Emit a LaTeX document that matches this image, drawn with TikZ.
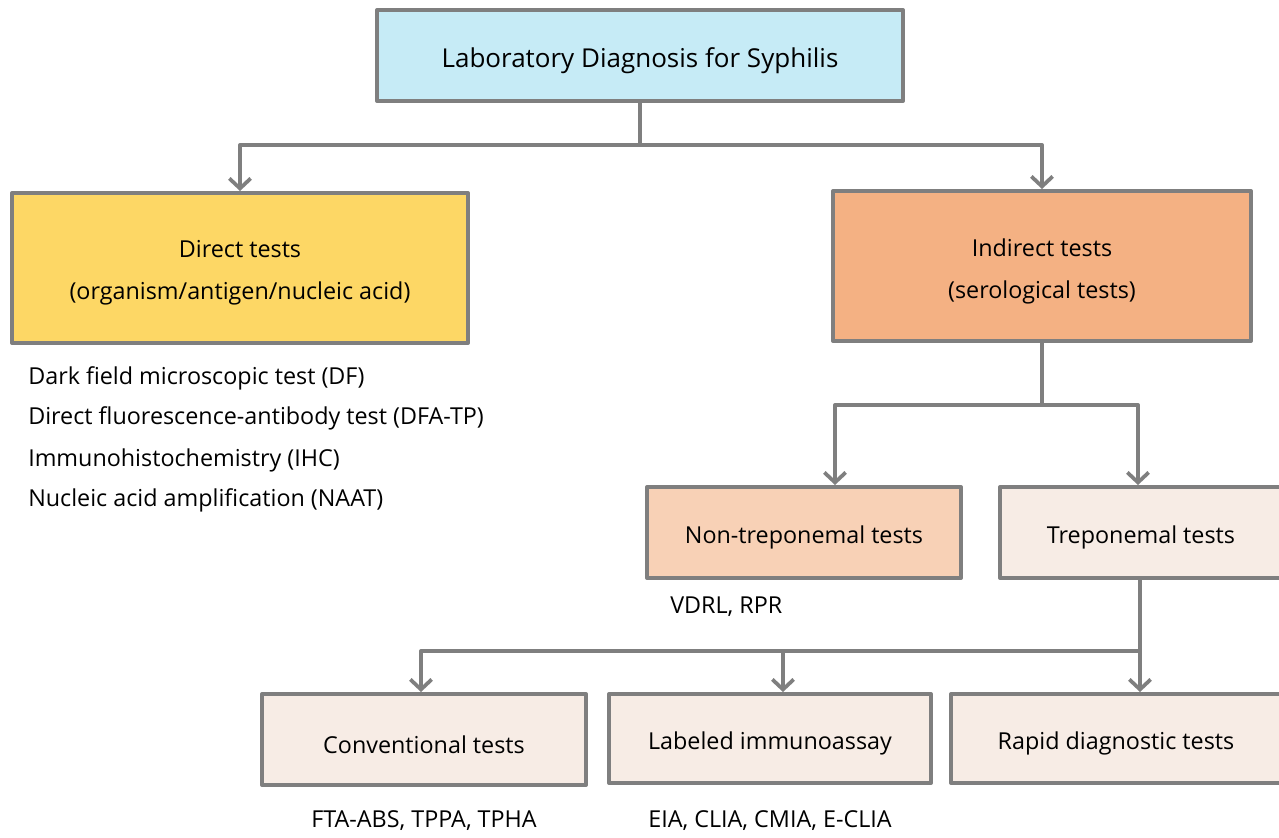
\documentclass[tikz,border=0pt]{standalone}
\usepackage{fontspec}
\setmainfont{Open Sans}
\usetikzlibrary{arrows.meta}
\definecolor{boxgray}{HTML}{7F7F7F}
\definecolor{topblue}{HTML}{C6EBF6}
\definecolor{directyellow}{HTML}{FDD765}
\definecolor{indirectorange}{HTML}{F4B183}
\definecolor{nontreppeach}{HTML}{F8D1B6}
\definecolor{treplight}{HTML}{F7ECE5}
\newcommand\lowtxt[1]{\raisebox{-3.75pt}[\height][\depth]{#1}}
\begin{document}
\begin{tikzpicture}[x=0.75pt,y=-0.75pt,>={Straight Barb[length=7.5pt,width=16pt,line width=2.8pt]}, font=\fontsize{17.5}{21}\selectfont, line join=round]
	\tikzset{box/.style={draw=boxgray,line width=3pt,align=center,inner sep=0pt},
		link/.style={draw=boxgray,line width=3pt}}
	\useasboundingbox (0,0) rectangle (1279,838);
	% boxes
	\node[box,fill=topblue,minimum width=394.5pt,minimum height=68.25pt,font=\fontsize{19.5}{23}\selectfont] (lab) at (640,55.5) {\lowtxt{Laboratory Diagnosis for Syphilis}};
	\node[box,fill=directyellow,minimum width=342pt,minimum height=112.5pt] (direct) at (240,268) {\lowtxt{Direct tests}\\[10.5pt]\lowtxt{(organism/antigen/nucleic acid)}};
	\node[box,fill=indirectorange,minimum width=313.5pt,minimum height=112.5pt] (indirect) at (1042,266) {\lowtxt{Indirect tests}\\[10.5pt]\lowtxt{(serological tests)}};
	\node[box,fill=nontreppeach,minimum width=235.5pt,minimum height=68.25pt] (nontrep) at (804,532.5) {\lowtxt{Non-treponemal tests}};
	\node[box,fill=treplight,minimum width=211.5pt,minimum height=68.25pt] (trep) at (1141,532.5) {\lowtxt{Treponemal tests}};
	\node[box,fill=treplight,minimum width=243pt,minimum height=68.25pt] (conv) at (424,739.5) {\lowtxt{Conventional tests}};
	\node[box,fill=treplight,minimum width=241.5pt,minimum height=66.75pt] (label) at (770,738.5) {\lowtxt{Labeled immunoassay}};
	\node[box,fill=treplight,minimum width=247.5pt,minimum height=66.75pt] (rapid) at (1116,738.5) {\lowtxt{Rapid diagnostic tests}};
	% texts
	\foreach \t/\y/\n in {Dark field microscopic test (DF)/378/df,Direct fluorescence-antibody test (DFA-TP)/418/dfa,Immunohistochemistry (IHC)/460/ihc,Nucleic acid amplification (NAAT)/500/naat}
	\node[anchor=west,inner sep=0pt] (\n) at (28,\y) {\t};
	\node[anchor=west,inner sep=0pt] (vdrl) at (670,607) {VDRL, RPR};
	\node[inner sep=0pt] (fta) at (424,821) {FTA-ABS, TPPA, TPHA};
	\node[inner sep=0pt] (eia) at (770,821) {EIA, CLIA, CMIA, E-CLIA};
	% connectors
	\coordinate (s1) at (640,145);
	\draw[link] (lab.south) -- (s1);
	\draw[link,->] (s1) -| (direct.north);
	\draw[link,->] (s1) -| (indirect.north);
	\coordinate (s2) at (1042,405);
	\coordinate (s2l) at (835,405);
	\coordinate (s2r) at (1138,405);
	\draw[link] (indirect.south) -- (s2);
	\draw[link,->] (s2) -- (s2l) -- (s2l |- nontrep.north);
	\draw[link,->] (s2) -- (s2r) -- (s2r |- trep.north);
	\coordinate (s3) at (1140,651);
	\coordinate (s3l) at (421,651);
	\coordinate (s3m) at (783,651);
	\draw[link,->] (trep.south -| s3) -- (s3 |- rapid.north);
	\draw[link,->] (s3) -- (s3l) -- (s3l |- conv.north);
	\draw[link,->] (s3m) -- (s3m |- label.north);
\end{tikzpicture}
\end{document}
